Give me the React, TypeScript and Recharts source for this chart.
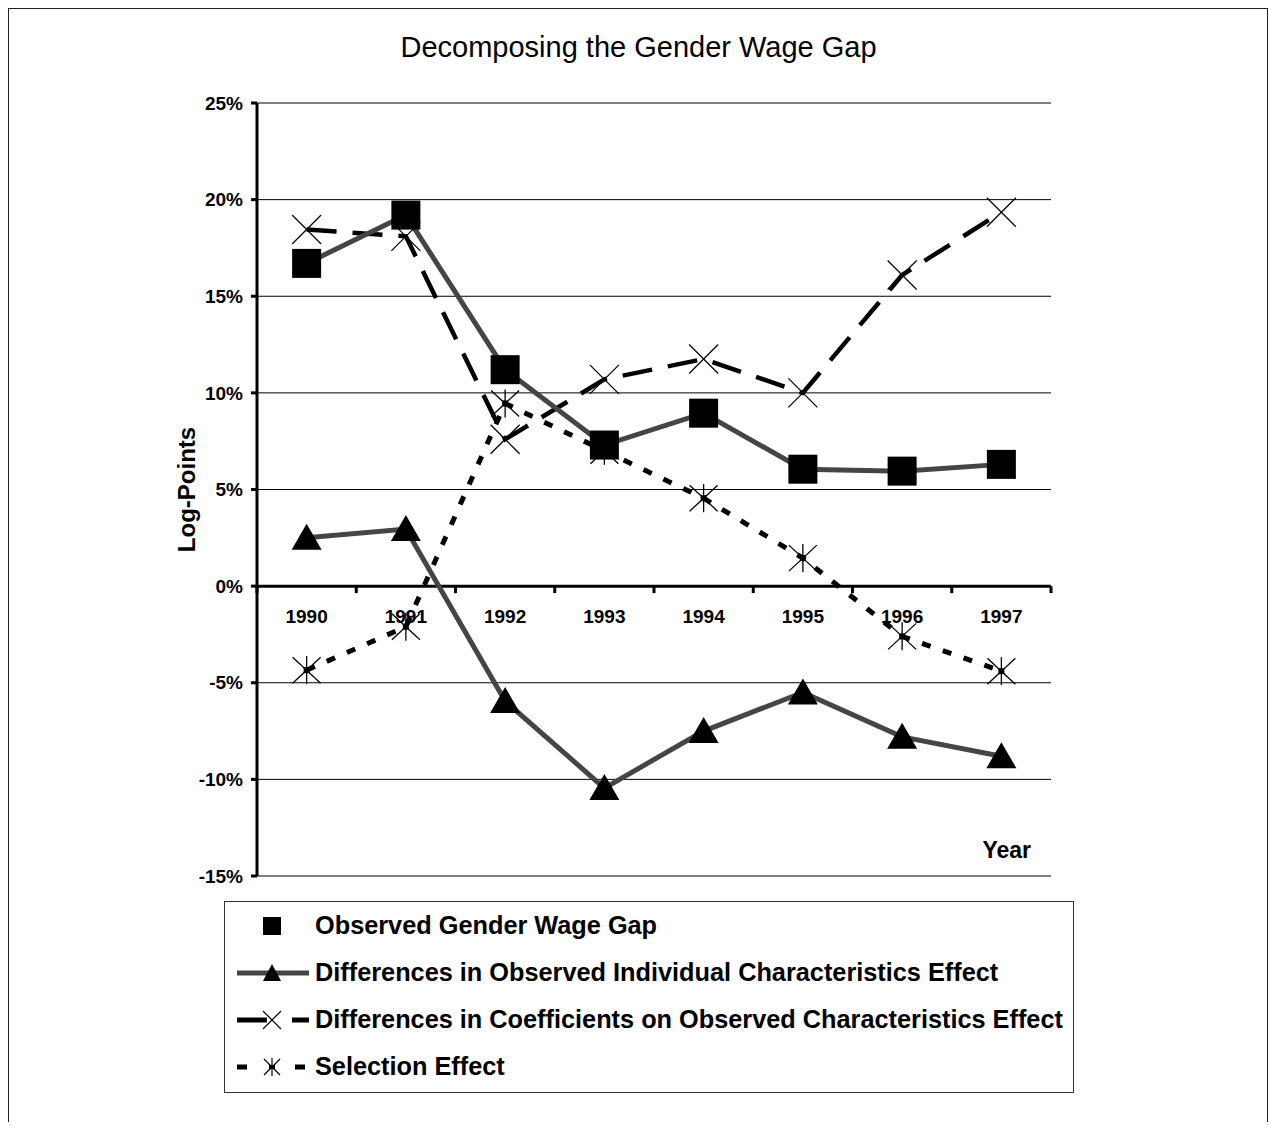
import React from "react";
import { LineChart, Line, XAxis, YAxis, CartesianGrid, ReferenceLine, Legend } from "recharts";

const years = ["1990", "1991", "1992", "1993", "1994", "1995", "1996", "1997"];
const observedGap = [16.7, 19.2, 11.2, 7.3, 8.95, 6.05, 5.95, 6.3];
const individualEffect = [2.5, 2.95, -5.95, -10.45, -7.5, -5.5, -7.8, -8.8];
const coefficientEffect = [18.45, 18.1, 7.6, 10.7, 11.75, 10.0, 16.1, 19.35];
const selectionEffect = [-4.35, -2.1, 9.45, 7.0, 4.55, 1.45, -2.6, -4.4];
const yTicks = [-15, -10, -5, 0, 5, 10, 15, 20, 25];

const data = years.map((year, i) => ({
  year,
  observed: observedGap[i],
  individual: individualEffect[i],
  coefficients: coefficientEffect[i],
  selection: selectionEffect[i],
}));

const FONT = "Arial, 'Liberation Sans', sans-serif";
const GRAY = "#454545";

const W = 1261;
const H = 1114;
const MARGIN = { top: 95, right: 218, left: 107, bottom: 216 };
const Y_AXIS_W = 142;
const X_AXIS_H = 30;
const Y_MIN = -15;
const Y_MAX = 25;
const PLOT_W = W - MARGIN.left - MARGIN.right - Y_AXIS_W;
const PLOT_H = H - MARGIN.top - MARGIN.bottom - X_AXIS_H;
const BAND = PLOT_W / years.length;
const zeroY = MARGIN.top + (PLOT_H * (Y_MAX - 0)) / (Y_MAX - Y_MIN);

const YearTick = (props: any) => {
  const { x, payload, index } = props;
  return (
    <g>
      <line x1={x - BAND / 2} x2={x - BAND / 2} y1={zeroY} y2={zeroY + 7} stroke="#000" strokeWidth={3} />
      {index === years.length - 1 && (
        <line x1={x + BAND / 2} x2={x + BAND / 2} y1={zeroY} y2={zeroY + 7} stroke="#000" strokeWidth={3} />
      )}
      <text x={x} y={zeroY + 37} textAnchor="middle" fontFamily={FONT} fontWeight="bold" fontSize={19} fill="#000">
        {payload.value}
      </text>
    </g>
  );
};

const SquareDot = (p: any) => {
  if (p.cx == null || p.cy == null) return <g key={p.index} />;
  return <rect key={p.index} x={p.cx - 14.5} y={p.cy - 14.5} width={29} height={29} fill="#000" />;
};

const TriangleDot = (p: any) => {
  if (p.cx == null || p.cy == null) return <g key={p.index} />;
  const { cx, cy } = p;
  return <polygon key={p.index} points={`${cx},${cy - 14} ${cx + 15},${cy + 12} ${cx - 15},${cy + 12}`} fill="#000" />;
};

const CrossDot = (p: any) => {
  if (p.cx == null || p.cy == null) return <g key={p.index} />;
  const { cx, cy } = p;
  return (
    <g key={p.index} stroke="#000" strokeWidth={1.3}>
      <line x1={cx - 14.5} y1={cy - 14.5} x2={cx + 14.5} y2={cy + 14.5} />
      <line x1={cx - 14.5} y1={cy + 14.5} x2={cx + 14.5} y2={cy - 14.5} />
    </g>
  );
};

const StarDot = (p: any) => {
  if (p.cx == null || p.cy == null) return <g key={p.index} />;
  const { cx, cy } = p;
  return (
    <g key={p.index} stroke="#000" strokeWidth={1.3}>
      <line x1={cx - 14} y1={cy - 13} x2={cx + 14} y2={cy + 13} />
      <line x1={cx - 14} y1={cy + 13} x2={cx + 14} y2={cy - 13} />
      <line x1={cx} y1={cy - 14} x2={cx} y2={cy + 14} />
      <rect x={cx - 3} y={cy - 3} width={6} height={6} fill="#000" stroke="none" />
    </g>
  );
};

const legendRows = [
  { label: "Observed Gender Wage Gap", kind: "observed" },
  { label: "Differences in Observed Individual Characteristics Effect", kind: "individual" },
  { label: "Differences in Coefficients on Observed Characteristics Effect", kind: "coefficients" },
  { label: "Selection Effect", kind: "selection" },
];

const LegendIcon = ({ kind }: { kind: string }) => {
  const cx = 35;
  const cy = 15;
  return (
    <svg width={72} height={30} style={{ display: "block", flex: "none" }}>
      {kind === "observed" && <rect x={cx - 9} y={cy - 9} width={18} height={18} fill="#000" />}
      {kind === "individual" && (
        <g>
          <line x1={0} x2={72} y1={cy} y2={cy} stroke={GRAY} strokeWidth={5} />
          <polygon points={`${cx},${cy - 9} ${cx + 9},${cy + 8} ${cx - 9},${cy + 8}`} fill="#000" />
        </g>
      )}
      {kind === "coefficients" && (
        <g>
          <line x1={0} x2={30} y1={cy} y2={cy} stroke="#000" strokeWidth={5} />
          <line x1={55} x2={72} y1={cy} y2={cy} stroke="#000" strokeWidth={5} />
          <g stroke="#000" strokeWidth={1.2}>
            <line x1={cx - 9} y1={cy - 9} x2={cx + 9} y2={cy + 9} />
            <line x1={cx - 9} y1={cy + 9} x2={cx + 9} y2={cy - 9} />
          </g>
        </g>
      )}
      {kind === "selection" && (
        <g>
          <line x1={0} x2={10} y1={cy} y2={cy} stroke="#000" strokeWidth={5} />
          <line x1={58} x2={68} y1={cy} y2={cy} stroke="#000" strokeWidth={5} />
          <g stroke="#000" strokeWidth={1.2}>
            <line x1={cx - 8} y1={cy - 8} x2={cx + 8} y2={cy + 8} />
            <line x1={cx - 8} y1={cy + 8} x2={cx + 8} y2={cy - 8} />
            <line x1={cx} y1={cy - 9} x2={cx} y2={cy + 9} />
            <rect x={cx - 3} y={cy - 2} width={6} height={4} fill="#000" stroke="none" />
          </g>
        </g>
      )}
    </svg>
  );
};

const LegendBox = () => (
  <div
    style={{
      boxSizing: "border-box",
      width: 850,
      height: 192,
      border: "1px solid #333",
      background: "#fff",
      paddingTop: 0,
    }}
  >
    {legendRows.map((r) => (
      <div key={r.kind} style={{ display: "flex", alignItems: "center", height: 47, paddingLeft: 12 }}>
        <LegendIcon kind={r.kind} />
        <span style={{ marginLeft: 6, fontFamily: FONT, fontWeight: "bold", fontSize: 25.3, color: "#000", whiteSpace: "nowrap" }}>
          {r.label}
        </span>
      </div>
    ))}
  </div>
);

export default function App() {
  return (
    <div style={{ position: "relative", width: W, height: H, overflow: "hidden" }}>
      <style>{"body{margin:8px 0 0 8px;overflow:hidden}"}</style>
      <div
        style={{
          position: "absolute",
          left: 0,
          top: 0,
          width: W - 1,
          height: H + 40,
          boxSizing: "border-box",
          border: "1.5px solid #222",
          pointerEvents: "none",
        }}
      />
      <div
        style={{
          position: "absolute",
          top: 23,
          left: 0,
          width: W,
          textAlign: "center",
          fontFamily: FONT,
          fontSize: 29,
          lineHeight: "33px",
          color: "#000",
        }}
      >
        Decomposing the Gender Wage Gap
      </div>
      <LineChart width={W} height={H} data={data} margin={MARGIN}>
        <CartesianGrid horizontal vertical={false} stroke="#000" strokeWidth={1} />
        <XAxis
          dataKey="year"
          height={X_AXIS_H}
          padding={{ left: BAND / 2, right: BAND / 2 }}
          axisLine={false}
          tickLine={false}
          interval={0}
          tick={(p: any) => <YearTick {...p} />}
          label={{
            value: "Year",
            position: "insideTopRight",
            dx: -15,
            dy: -39,
            style: { fontFamily: FONT, fontWeight: "bold", fontSize: 23, fill: "#000" },
          }}
        />
        <YAxis
          width={Y_AXIS_W}
          domain={[Y_MIN, Y_MAX]}
          ticks={yTicks}
          allowDataOverflow
          axisLine={{ stroke: "#000", strokeWidth: 3 }}
          tickLine={{ stroke: "#000", strokeWidth: 3 }}
          tickSize={6}
          tickMargin={8}
          tickFormatter={(v: number) => `${v}%`}
          tick={{ fontFamily: FONT, fontWeight: "bold", fontSize: 19, fill: "#000" }}
          label={{
            value: "Log-Points",
            angle: -90,
            position: "center",
            style: { fontFamily: FONT, fontWeight: "bold", fontSize: 24, fill: "#000" },
          }}
        />
        <ReferenceLine y={0} stroke="#000" strokeWidth={3} />
        <Line
          dataKey="individual"
          stroke={GRAY}
          strokeWidth={5}
          dot={TriangleDot}
          activeDot={false}
          isAnimationActive={false}
        />
        <Line
          dataKey="coefficients"
          stroke="#000"
          strokeWidth={4.5}
          strokeDasharray="30 16"
          dot={CrossDot}
          activeDot={false}
          isAnimationActive={false}
        />
        <Line
          dataKey="selection"
          stroke="#000"
          strokeWidth={5}
          strokeDasharray="9 13"
          dot={StarDot}
          activeDot={false}
          isAnimationActive={false}
        />
        <Line
          dataKey="observed"
          stroke={GRAY}
          strokeWidth={5}
          dot={SquareDot}
          activeDot={false}
          isAnimationActive={false}
        />
        <Legend
          layout="horizontal"
          verticalAlign="middle"
          align="center"
          wrapperStyle={{ left: 216, top: 893, width: 850, height: 192 }}
          content={() => <LegendBox />}
        />
      </LineChart>
    </div>
  );
}
